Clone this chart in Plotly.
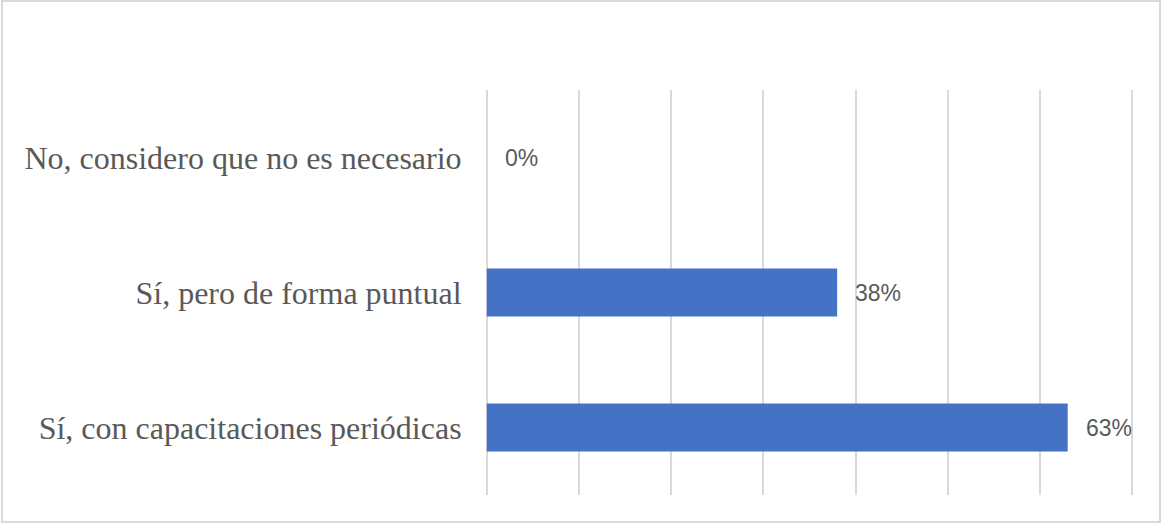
import plotly.graph_objects as go

categories = ["No, considero que no es necesario", "Sí, pero de forma puntual", "Sí, con capacitaciones periódicas"]
values = [0, 38, 63]
labels = ["0%", "38%", "63%"]
x_ticks = [0, 10, 20, 30, 40, 50, 60, 70]

W, H = 1163, 529
L, R, T, B = 484, 28, 90, 34
pw, ph = W - L - R, H - T - B

fig = go.Figure()
fig.add_trace(go.Bar(
    x=values, y=categories, orientation="h",
    marker=dict(color="#4472C4", line=dict(width=0)),
    hoverinfo="skip",
))

for c, v, t in zip(categories, values, labels):
    fig.add_annotation(
        x=v, y=c, text=t, showarrow=False, xanchor="left", yanchor="middle",
        xshift=16, font=dict(family="Liberation Sans", size=23, color="#595959"),
    )

# outer border of the chart area (page coords 2..1160 x 1..522)
fig.add_shape(
    type="rect", xref="paper", yref="paper",
    x0=(2 - L) / pw, x1=(1160 - L) / pw,
    y0=(H - B - 522) / ph, y1=(H - B - 1) / ph,
    line=dict(color="#d9d9d9", width=2), fillcolor="rgba(0,0,0,0)", layer="below",
)

fig.update_layout(
    width=W, height=H,
    margin=dict(l=L, r=R, t=T, b=B, autoexpand=False),
    paper_bgcolor="white", plot_bgcolor="white",
    bargap=0.645,
    showlegend=False,
    xaxis=dict(
        range=[-0.3, 70.3], tickvals=x_ticks, showticklabels=False,
        showgrid=True, gridcolor="#d9d9d9", gridwidth=1.5,
        zeroline=False, showline=False, fixedrange=True,
    ),
    yaxis=dict(
        categoryorder="array", categoryarray=categories, autorange="reversed",
        showgrid=False, zeroline=False, showline=False,
        ticks="outside", ticklen=15, tickcolor="rgba(0,0,0,0)",
        tickfont=dict(family="Liberation Serif", size=32, color="#595959"),
        fixedrange=True, automargin=False,
    ),
)

fig.write_html(
    "out.html",
    config={"displayModeBar": False},
    post_script="document.body.style.margin='0';document.body.style.overflow='hidden';",
)
